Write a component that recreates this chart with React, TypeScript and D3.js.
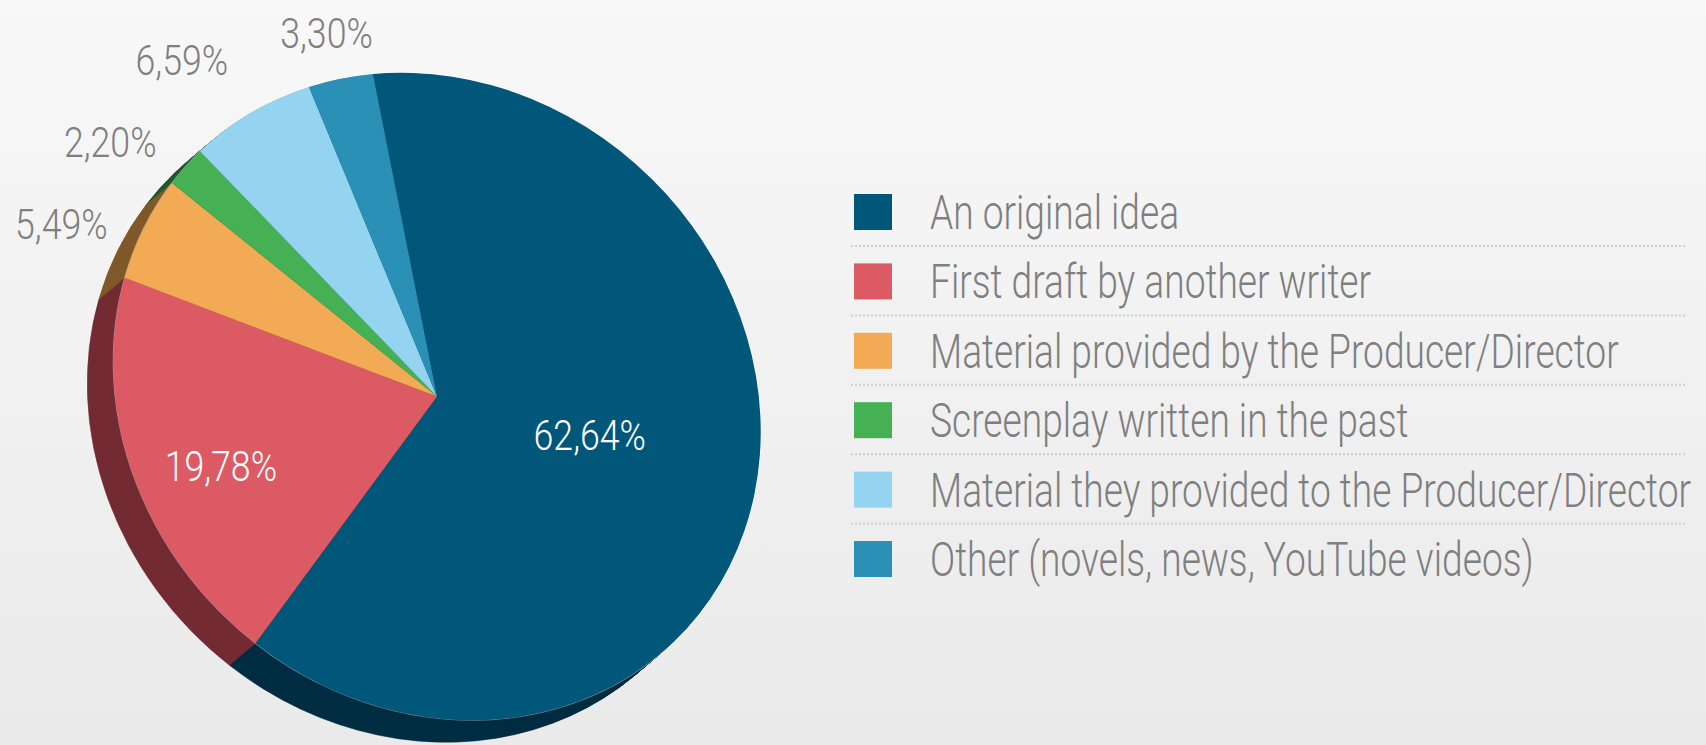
import * as d3 from "d3";

const categories = [
  "An original idea",
  "First draft by another writer",
  "Material provided by the Producer/Director",
  "Screenplay written in the past",
  "Material they provided to the Producer/Director",
  "Other (novels, news, YouTube videos)",
];
const values = [62.64, 19.78, 5.49, 2.2, 6.59, 3.3];
const faceColors = ["#00577a", "#dc5a63", "#f2ab54", "#46b055", "#95d4f0", "#2a90b5"];
const sideColors = ["#002d42", "#732b33", "#805a2a", "#235a2b", "#4b6b79", "#154858"];

const W = 1706;
const H = 745;

type Slice = { name: string; value: number; face: string; side: string };

const slices: Slice[] = categories.map((name, i) => ({
  name,
  value: values[i],
  face: faceColors[i],
  side: sideColors[i],
}));

const fmt = (v: number) => v.toFixed(2).replace(".", ",") + "%";

export default function App() {
  const cx = 437;
  const cy = 396.5;
  const R = 340.8;
  const squash = 0.897; // pie is tilted: squashed along the up-right diagonal
  const depth = { x: -26, y: 22 };
  const steps = 26;
  const start = (-8.3 * Math.PI) / 180;
  const tiltT = `rotate(-45) scale(${squash},1) rotate(45)`;
  const s2 = Math.SQRT1_2;

  // same transform as tiltT, for placing labels
  const tilt = (x: number, y: number): [number, number] => {
    const x1 = s2 * (x - y) * squash;
    const y1 = s2 * (x + y);
    return [s2 * (x1 + y1), s2 * (y1 - x1)];
  };

  const pie = d3
    .pie<Slice>()
    .sort(null)
    .value((d) => d.value)
    .startAngle(start)
    .endAngle(start + 2 * Math.PI);
  const arcs = pie(slices);
  const arc = d3.arc<d3.PieArcDatum<Slice>>().innerRadius(0).outerRadius(R);

  // extrusion: copies from far to near so the nearest rim wins
  const layers = d3.range(steps, 0, -1).map((t) => ({
    dx: (depth.x * t) / steps,
    dy: (depth.y * t) / steps,
  }));

  const labelCond = 0.85;
  const legendCond = 0.758;
  const turn = (-3 * Math.PI) / 180;

  const labels = arcs.map((a) => {
    const m = (a.startAngle + a.endAngle) / 2;
    const share = a.data.value / 100;
    if (share > 0.1) {
      const r = share > 0.5 ? R * 0.477 : R * 0.727;
      const [x, y] = tilt(r * Math.sin(m + turn), -r * Math.cos(m + turn));
      return { x: cx + x, y: cy + y, anchor: "middle", inside: true, a };
    }
    const [ux, uy] = tilt(Math.sin(m), -Math.cos(m));
    const len = Math.hypot(ux, uy);
    const dist = 380;
    const x = cx + (ux / len) * dist;
    const y = cy + (uy / len) * dist;
    return { x, y, anchor: ux / len < -0.5 ? "end" : "middle", inside: false, a };
  });

  // spread the stacked left-hand labels so they keep apart
  const stack = labels.filter((l) => l.anchor === "end").sort((p, q) => p.y - q.y);
  const minGap = 82;
  for (let it = 0; it < 60; it++) {
    for (let i = 1; i < stack.length; i++) {
      const gap = stack[i].y - stack[i - 1].y;
      if (gap < minGap) {
        const push = (minGap - gap) / 2;
        stack[i - 1].y -= push;
        stack[i].y += push;
      }
    }
  }

  const rowY = d3
    .scalePoint<string>()
    .domain(categories)
    .range([194, 194 + 69.4 * 5]);

  return (
    <svg
      width={W}
      height={H}
      style={{ position: "absolute", left: 0, top: 0, display: "block" }}
      fontFamily="Roboto, 'Open Sans', sans-serif"
    >
      <defs>
        <linearGradient id="bg" x1="0" y1="0" x2="0" y2="1">
          <stop offset="0%" stopColor="#f8f8f8" />
          <stop offset="100%" stopColor="#eaeaea" />
        </linearGradient>
      </defs>
      <rect width={W} height={H} fill="url(#bg)" />

      <g transform={`translate(${cx},${cy})`}>
        {layers.map((l, li) => (
          <g key={li} transform={`translate(${l.dx},${l.dy}) ${tiltT}`}>
            {arcs.map((a, i) => (
              <path key={i} d={arc(a) ?? ""} fill={a.data.side} stroke={a.data.side} strokeWidth={0.6} />
            ))}
          </g>
        ))}
        <g transform={tiltT}>
          <circle r={R} fill="none" stroke="rgba(255,255,255,0.45)" strokeWidth={1.2} />
          {arcs.map((a, i) => (
            <path key={i} d={arc(a) ?? ""} fill={a.data.face} />
          ))}
        </g>
      </g>

      {labels.map((l, i) => (
        <text
          key={i}
          transform={`translate(${l.x},${l.y + 15}) scale(${labelCond},1)`}
          textAnchor={l.anchor}
          fontSize={42}
          fontWeight={300}
          fill={l.inside ? "#ffffff" : "#7f7f7f"}
        >
          {fmt(l.a.data.value)}
        </text>
      ))}

      <g>
        {categories.map((c, i) => {
          const y = rowY(c) ?? 0;
          return (
            <g key={c}>
              <rect x={854} y={y} width={38} height={36} fill={faceColors[i]} />
              <text
                transform={`translate(930,${y + 35}) scale(${legendCond},1)`}
                fontSize={49}
                fontWeight={300}
                fill="#7f7f7f"
              >
                {c}
              </text>
              {i < categories.length - 1 && (
                <line
                  x1={851}
                  x2={1685}
                  y1={y + 52}
                  y2={y + 52}
                  stroke="#cfcfcf"
                  strokeWidth={2}
                  strokeDasharray="2 2"
                />
              )}
            </g>
          );
        })}
      </g>
    </svg>
  );
}
